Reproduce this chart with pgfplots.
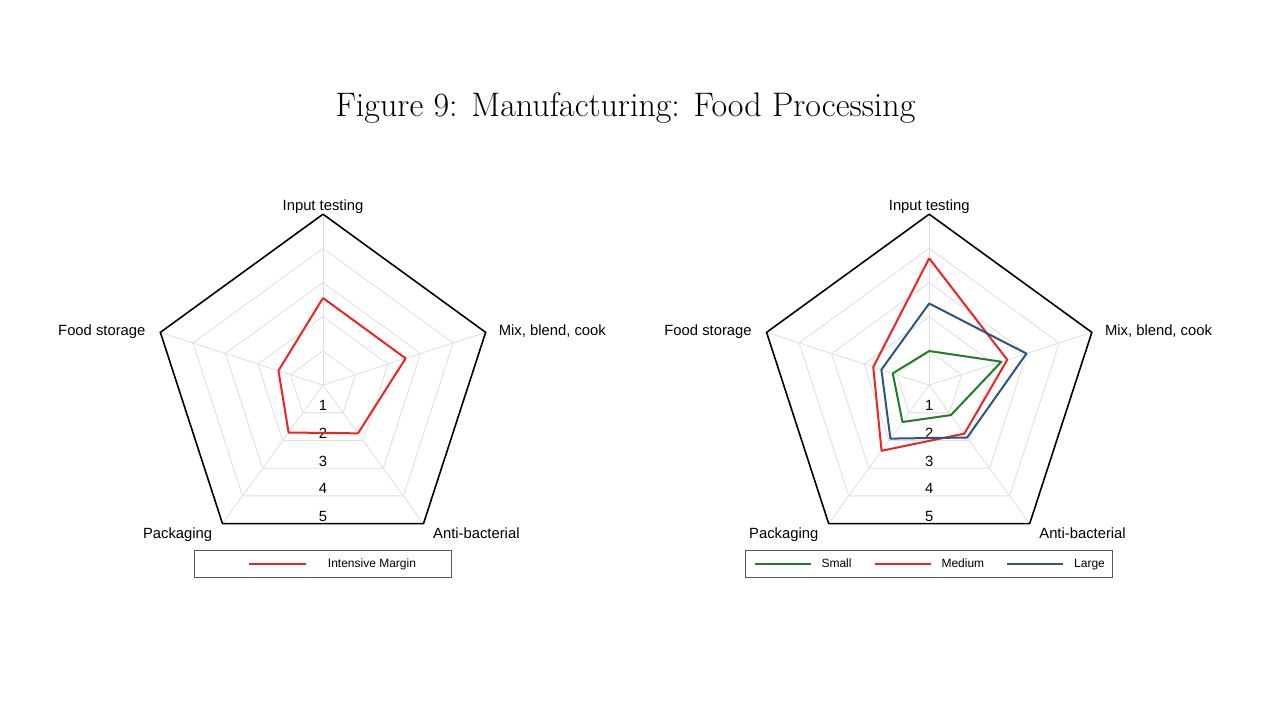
\documentclass[border=0pt]{standalone}
\usepackage{pgfplots}
\pgfplotsset{compat=1.18}
\usepackage{fontspec}
\newfontfamily\arial{Liberation Sans}

\definecolor{stred}{RGB}{240,35,35}
\definecolor{stgreen}{RGB}{35,125,40}
\definecolor{stblue}{RGB}{45,85,130}
\definecolor{gridgray}{RGB}{222,222,222}

\tikzset{lab/.style={font=\arial\fontsize{7.4}{8}\selectfont, inner sep=0pt}}

\pgfplotsset{
  radar/.style={
    x=17.1pt, y=17.1pt,
    xmin=-6, xmax=6, ymin=-6, ymax=6,
    hide axis, clip=false, anchor=center,
    legend style={at={(0.5,0.0983)}, anchor=north, draw=black!65, line width=0.5pt,
      font=\arial\fontsize{6}{6}\selectfont, inner ysep=3.75pt,
      nodes={inner sep=0pt, text height=4.5pt, text depth=1.5pt}},
  },
  gridline/.style={gridgray, line width=0.4pt, forget plot, data cs=polar},
  outline/.style={black, line width=0.8pt, forget plot, data cs=polar, line join=miter},
  series/.style={#1, line width=1pt, data cs=polar, line join=round},
}

% pentagon grid, spokes, category and scale labels
\newcommand{\radarframe}{%
  \addplot[gridline] coordinates {(90,1) (18,1) (-54,1) (-126,1) (162,1) (90,1)};
  \addplot[gridline] coordinates {(90,2) (18,2) (-54,2) (-126,2) (162,2) (90,2)};
  \addplot[gridline] coordinates {(90,3) (18,3) (-54,3) (-126,3) (162,3) (90,3)};
  \addplot[gridline] coordinates {(90,4) (18,4) (-54,4) (-126,4) (162,4) (90,4)};
  \addplot[gridline] coordinates {(90,0) (90,5)};
  \addplot[gridline] coordinates {(18,0) (18,5)};
  \addplot[gridline] coordinates {(-54,0) (-54,5)};
  \addplot[gridline] coordinates {(-126,0) (-126,5)};
  \addplot[gridline] coordinates {(162,0) (162,5)};
  \addplot[outline] coordinates {(90,5) (18,5) (-54,5) (-126,5) (162,5) (90,5)};
  \node[lab, anchor=base] at (axis cs:0,5.11) {Input testing};
  \node[lab, anchor=base west] at (axis cs:5.13,1.44) {Mix, blend, cook};
  \node[lab, anchor=base west] at (axis cs:3.21,-4.47) {Anti-bacterial};
  \node[lab, anchor=base east] at (axis cs:-3.23,-4.47) {Packaging};
  \node[lab, anchor=base east] at (axis cs:-5.18,1.44) {Food storage};
  \node[lab, anchor=base] at (axis cs:0,-0.75) {1};
  \node[lab, anchor=base] at (axis cs:0,-1.56) {2};
  \node[lab, anchor=base] at (axis cs:0,-2.37) {3};
  \node[lab, anchor=base] at (axis cs:0,-3.18) {4};
  \node[lab, anchor=base] at (axis cs:0,-3.98) {5};
}

\begin{document}
\begin{tikzpicture}
\fill[white] (0,0) rectangle (640pt,360pt);
\path[use as bounding box] (0,0) rectangle (640pt,360pt);

\node[font=\fontsize{17}{20}\selectfont, anchor=base] at (312.75pt,302pt)
  {Figure 9: Manufacturing: Food Processing};

% left: intensive margin
\begin{axis}[radar, at={(161.5pt,167.4pt)},
  legend style={inner xsep=17.8pt, /tikz/every odd column/.append style={column sep=10.5pt}},
  legend image code/.code={\path (0pt,0pt); \draw[#1] (8.85pt,0pt) -- (37.5pt,0pt);},
]
\radarframe
\addplot[series=stred] coordinates {(90,2.55) (18,2.54) (-54,1.74) (-126,1.71) (162,1.37) (90,2.55)};
\addlegendentry{Intensive Margin}
\end{axis}

% right: by firm size
\begin{axis}[radar, at={(464.6pt,167.4pt)},
  legend columns=3,
  legend style={inner xsep=4pt,
    /tikz/every odd column/.append style={column sep=5pt},
    /tikz/every even column/.append style={column sep=11pt}},
  legend image code/.code={\draw[#1] (0pt,0pt) -- (28pt,0pt);},
]
\radarframe
\addplot[series=stgreen] coordinates {(90,1.00) (18,2.22) (-54,1.08) (-126,1.33) (162,1.12) (90,1.00)};
\addlegendentry{Small}
\addplot[series=stred] coordinates {(90,3.71) (18,2.40) (-54,1.75) (-126,2.37) (162,1.72) (90,3.71)};
\addlegendentry{Medium}
\addplot[series=stblue] coordinates {(90,2.39) (18,2.99) (-54,1.89) (-126,1.93) (162,1.47) (90,2.39)};
\addlegendentry{Large}
\end{axis}
\end{tikzpicture}
\end{document}
